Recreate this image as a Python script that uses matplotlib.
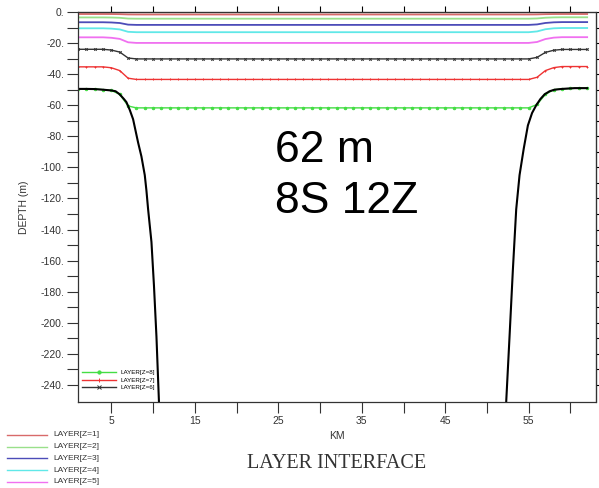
import numpy as np
import matplotlib
matplotlib.use('Agg')
import matplotlib.pyplot as plt

# grid points (km) of the layer interfaces
km = np.arange(1, 63)

# layer interface depths (m): left edge, left slope, middle, right slope, right edge
layer_z1 = [-1.3]*4 + [-1.32, -1.39, -1.57] + [-1.6]*48 + [-1.55, -1.39, -1.32] + [-1.3]*4
layer_z2 = [-3.5]*4 + [-3.56, -3.73, -4.22] + [-4.3]*48 + [-4.15, -3.68, -3.47] + [-3.4]*4
layer_z3 = [-6.6]*4 + [-6.74, -7.09, -8.13] + [-8.3]*48 + [-7.99, -7.06, -6.64] + [-6.5]*4
layer_z4 = [-10.5]*4 + [-10.7, -11.2, -12.75] + [-13.0]*48 + [-12.5, -11.1, -10.5] + [-10.3]*4
layer_z5 = [-16.3]*4 + [-16.6, -17.3, -19.5] + [-19.9]*48 + [-19.3, -17.4, -16.5] + [-16.2]*4
layer_z6 = [-24.0]*4 + [-24.5, -25.8, -29.6] + [-30.2]*48 + [-29.2, -26.0, -24.6] + [-24.1]*4
layer_z7 = [-35.3]*4 + [-35.9, -37.7, -42.6] + [-43.4]*48 + [-42.0, -37.7, -35.8] + [-35.1]*4
layer_z8 = [-49.5, -49.5, -49.6, -50.0] + [-50.5, -53.0, -60.5] + [-61.7]*48 + [-59.5, -53.0, -50.0] + [-49.5, -49.2, -49.0, -49.0]

# bottom depth (m), cut where it leaves the plot
bathy_km = [1, 2, 3, 4, 5, 5.5, 6, 6.5, 6.8, 7.2, 7.6, 8.2, 8.6, 9.0, 9.2, 9.4, 9.8, 10.1, 10.4, 10.7,
            np.nan,
            52.3, 52.7, 53.1, 53.5, 53.9, 54.4, 54.9, 55.4, 55.9, 56.4, 56.9, 57.5, 58.1, 59, 60.5, 62]
bathy_depth = [-49.5, -49.5, -49.6, -50, -50.5, -51, -53, -56, -58, -63, -69, -84, -93, -105, -115, -127, -148, -176, -209, -251,
               np.nan,
               -251, -209, -166, -127, -105, -88, -73, -65, -60, -56, -53, -51, -50, -49.5, -49, -49]

upper_layers = [layer_z1, layer_z2, layer_z3, layer_z4, layer_z5]
upper_names = ['LAYER[Z=1]', 'LAYER[Z=2]', 'LAYER[Z=3]', 'LAYER[Z=4]', 'LAYER[Z=5]']
upper_colors = ['#d86a6a', '#99e08a', '#4c4cb8', '#60e8e8', '#f070f0']

lower_layers = [layer_z8, layer_z7, layer_z6]
lower_names = ['LAYER[Z=8]', 'LAYER[Z=7]', 'LAYER[Z=6]']
lower_colors = ['#44dd44', '#ee3333', '#333333']
lower_markers = ['o', '+', 'x']

y_ticks = np.arange(0, -250, -10)
y_labels = [f"{v}." if v % 20 == 0 else '' for v in y_ticks]
x_ticks = np.arange(5, 63, 5)
x_labels = [str(v) if v % 10 == 5 else '' for v in x_ticks]

tick_font = 'Liberation Sans'

fig = plt.figure(figsize=(5.99, 4.88), dpi=100)
ax = fig.add_axes([78/599, 1 - 402/488, 517.5/599, 390/488])

for vals, c in zip(upper_layers, upper_colors):
    ax.plot(km, vals, color=c, lw=1.3)

lower_handles = []
for vals, c, m, n in zip(lower_layers, lower_colors, lower_markers, lower_names):
    h, = ax.plot(km, vals, color=c, lw=1.0, marker=m, ms=1.8, mew=0.7)
    lower_handles.append((h, n))

ax.plot(bathy_km, bathy_depth, color='black', lw=1.5)

ax.set_xlim(1, 63)
ax.set_ylim(-251, 0)
ax.set_yticks(y_ticks)
ax.set_yticklabels(y_labels, fontsize=7.5, family=tick_font, color='#333333')
ax.set_xticks(x_ticks)
ax.set_xticklabels(x_labels, fontsize=7.5, family=tick_font, color='#333333')
ax.tick_params(direction='out', length=8, width=0.8, pad=2, color='#333333')
for s in ax.spines.values():
    s.set_linewidth(0.9)
    s.set_color('#333333')

top = ax.secondary_xaxis('top')
top.set_xticks(x_ticks)
top.set_xticklabels([])
top.tick_params(direction='out', length=4, width=0.8)
right = ax.secondary_yaxis('right')
right.set_yticks(y_ticks)
right.set_yticklabels([])
right.tick_params(direction='out', length=4, width=0.8)

ax.set_ylabel('DEPTH (m)', fontsize=7.5, family=tick_font, labelpad=8, color='#333333')
ax.set_xlabel('KM', fontsize=7.5, family=tick_font, labelpad=4, color='#333333')

# legend inside the plot for the lower layers
ax.legend([h for h, _ in lower_handles], [n for _, n in lower_handles],
          loc='lower left', bbox_to_anchor=(0.0, 0.02), frameon=False,
          prop={'family': tick_font, 'size': 4.5}, handlelength=5.5, labelspacing=0.35,
          handletextpad=0.7, borderaxespad=0.2, markerscale=1.3)

# legend below the plot for the upper layers
for i, (n, c) in enumerate(zip(upper_names, upper_colors)):
    y = 1 - (435 + i * 11.7) / 488
    fig.add_artist(plt.Line2D([7/599, 47/599], [y, y], color=c, lw=1.0))
    fig.text(53/599, y, n, fontsize=6, family=tick_font, va='center', color='#333333')

fig.text(337/599, 1 - 463/488, 'LAYER INTERFACE', fontsize=14.5, family='Liberation Serif',
         ha='center', va='center', color='#333333')

fig.text(275/599, 1 - 162/488, '62 m', fontsize=32,
         family='Liberation Sans', va='baseline', ha='left')
fig.text(275/599, 1 - 213/488, '8S 12Z', fontsize=32,
         family='Liberation Sans', va='baseline', ha='left')

plt.savefig('out.png', dpi=100)
